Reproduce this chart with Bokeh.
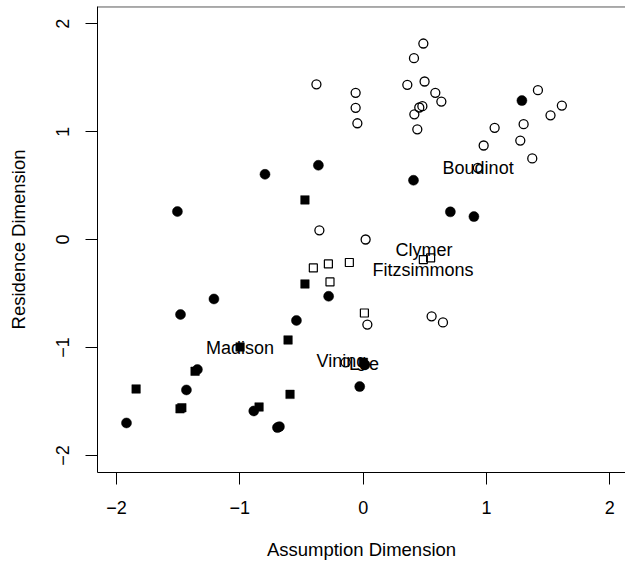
from bokeh.plotting import figure
from bokeh.models import FixedTicker, Span, Range1d, CustomJSTickFormatter
from bokeh.core.properties import value
from bokeh.embed import file_html
from bokeh.resources import INLINE

# ---- data ----
oc_x = [-0.379, -0.061, -0.061, -0.047, 0.488, 0.412, 0.358, 0.498, 0.585, 0.634,
        0.455, 0.480, 0.415, 0.439, 1.417, 1.611, 1.519, 1.066, 1.301, 1.274,
        0.977, 1.371, 0.930, -0.355, 0.020, 0.034, 0.555, 0.647, -0.142]
oc_y = [1.439, 1.360, 1.221, 1.078, 1.817, 1.681, 1.434, 1.465, 1.360, 1.279,
        1.224, 1.236, 1.161, 1.022, 1.385, 1.242, 1.152, 1.036, 1.070, 0.918,
        0.872, 0.752, 0.665, 0.086, 0.001, -0.787, -0.711, -0.767, -1.137]

fc_x = [1.287, -0.363, -0.796, 0.408, -1.506, 0.707, 0.898, -1.210, -1.481, -0.280,
        -0.541, -1.344, -1.433, -1.919, -0.887, -0.695, -0.679, -0.028, 0.015]
fc_y = [1.288, 0.689, 0.605, 0.550, 0.260, 0.257, 0.213, -0.550, -0.694, -0.525,
        -0.749, -1.204, -1.393, -1.699, -1.588, -1.742, -1.733, -1.362, -1.160]

fs_x = [-0.472, -0.472, -0.609, -0.998, -1.363, -1.841, -1.485, -1.470, -0.844, -0.593, 0.002]
fs_y = [0.368, -0.411, -0.930, -0.995, -1.220, -1.384, -1.568, -1.558, -1.551, -1.434, -1.137]

os_x = [-0.404, -0.282, -0.112, -0.269, 0.010, 0.488, 0.547]
os_y = [-0.262, -0.225, -0.212, -0.392, -0.680, -0.185, -0.170]

names = ["Boudinot", "Clymer", "Fitzsimmons", "Madison", "Vining", "Lee"]
name_x = [0.932, 0.494, 0.485, -0.999, -0.176, 0.006]
name_y = [0.665, -0.095, -0.281, -1.005, -1.121, -1.152]

x_ticks = [-2, -1, 0, 1, 2]
y_ticks = [-2, -1, 0, 1, 2]

FONT = "Liberation Sans"

p = figure(width=625, height=563, output_backend="svg", toolbar_location=None,
           x_range=Range1d(-2.154, 2.127), y_range=Range1d(-2.158, 2.160),
           min_border_left=97, min_border_right=0, min_border_top=6, min_border_bottom=91)
p.grid.visible = False
p.outline_line_color = None
p.background_fill_color = "white"
p.border_fill_color = "white"

p.scatter(oc_x, oc_y, marker="circle", size=9, fill_color=None, line_color="black", line_width=1.3)
p.scatter(fc_x, fc_y, marker="circle", size=10, fill_color="black", line_color="black", line_width=0.5)
p.scatter(fs_x, fs_y, marker="square", size=8.5, fill_color="black", line_color="black", line_width=0.5)
p.scatter(os_x, os_y, marker="square", size=8, fill_color=None, line_color="black", line_width=1.2)

p.text(name_x, name_y, text=names, text_align="center", text_baseline="middle",
       text_font=value(FONT), text_font_size="18px", text_color="black")

fmt = CustomJSTickFormatter(code="return tick < 0 ? '\u2212' + Math.abs(tick) : String(tick);")

for ax, ticks in ((p.xaxis[0], x_ticks), (p.yaxis[0], y_ticks)):
    ax.ticker = FixedTicker(ticks=ticks)
    ax.formatter = fmt
    ax.minor_tick_line_color = None
    ax.major_tick_in = 0
    ax.major_tick_out = 12
    ax.axis_line_color = "black"
    ax.major_tick_line_color = "black"
    ax.major_label_text_font = FONT
    ax.major_label_text_font_size = "18px"
    ax.major_label_text_color = "black"
    ax.axis_label_text_font = FONT
    ax.axis_label_text_font_size = "18.5px"
    ax.axis_label_text_font_style = "normal"
    ax.axis_label_text_color = "black"
    ax.major_label_standoff = 16

p.xaxis.axis_label = "Assumption Dimension"
p.yaxis.axis_label = "Residence Dimension"
p.yaxis.major_label_orientation = "parallel"
p.xaxis.axis_label_standoff = 22
p.yaxis.axis_label_standoff = 25

p.add_layout(Span(location=2.157, dimension="width", line_color="black", line_width=1))

open("out.html", "w").write(file_html(p, INLINE))
